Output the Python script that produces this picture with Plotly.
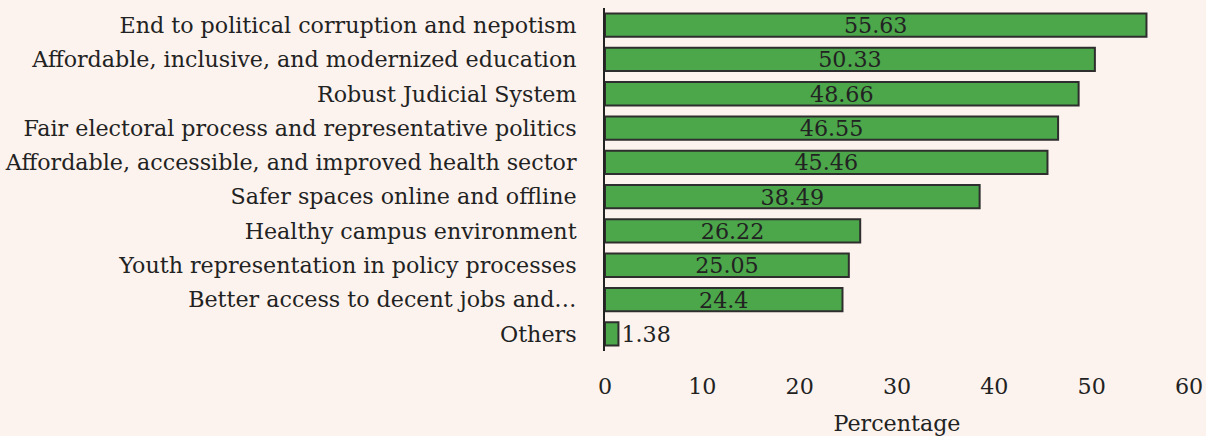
import plotly.graph_objects as go

categories = [
    "End to political corruption and nepotism",
    "Affordable, inclusive, and modernized education",
    "Robust Judicial System",
    "Fair electoral process and representative politics",
    "Affordable, accessible, and improved health sector",
    "Safer spaces online and offline",
    "Healthy campus environment",
    "Youth representation in policy processes",
    "Better access to decent jobs and…",
    "Others",
]
values = [55.63, 50.33, 48.66, 46.55, 45.46, 38.49, 26.22, 25.05, 24.4, 1.38]
value_labels = ["55.63", "50.33", "48.66", "46.55", "45.46", "38.49", "26.22", "25.05", "24.4", "1.38"]
tick_vals = [0, 10, 20, 30, 40, 50, 60]

font_family = "DejaVu Serif"
font_size = 22.2
text_color = "#222222"
bg = "#fcf3ee"

fig = go.Figure()
fig.add_trace(go.Bar(
    x=values,
    y=categories,
    orientation="h",
    text=value_labels,
    textposition="auto",
    insidetextanchor="middle",
    textfont=dict(family=font_family, size=font_size, color=text_color),
    marker=dict(color="#4ca64a", line=dict(color="#2e2e2e", width=2)),
    cliponaxis=False,
))

fig.update_layout(
    width=1206,
    height=436,
    margin=dict(l=605, r=17, t=8, b=85),
    paper_bgcolor=bg,
    plot_bgcolor=bg,
    bargap=0.32,
    showlegend=False,
    font=dict(family=font_family, size=font_size, color=text_color),
    uniformtext=dict(minsize=font_size, mode="show"),
)
fig.update_xaxes(
    range=[0, 60],
    tickvals=tick_vals,
    showgrid=False,
    zeroline=False,
    showline=False,
    ticks="",
    automargin=False,
    ticklabelstandoff=20,
    title=dict(text="Percentage", standoff=22, font=dict(size=font_size)),
)
fig.update_yaxes(
    autorange="reversed",
    showline=True,
    linecolor="#222222",
    linewidth=2,
    ticks="",
    automargin=False,
    ticklabelstandoff=22,
    showgrid=False,
)

# drop the page's default body margin so the figure fills the window
fig.write_html(
    "out.html",
    config={"displayModeBar": False},
    post_script="document.body.style.margin='0';document.body.style.overflow='hidden';",
)
